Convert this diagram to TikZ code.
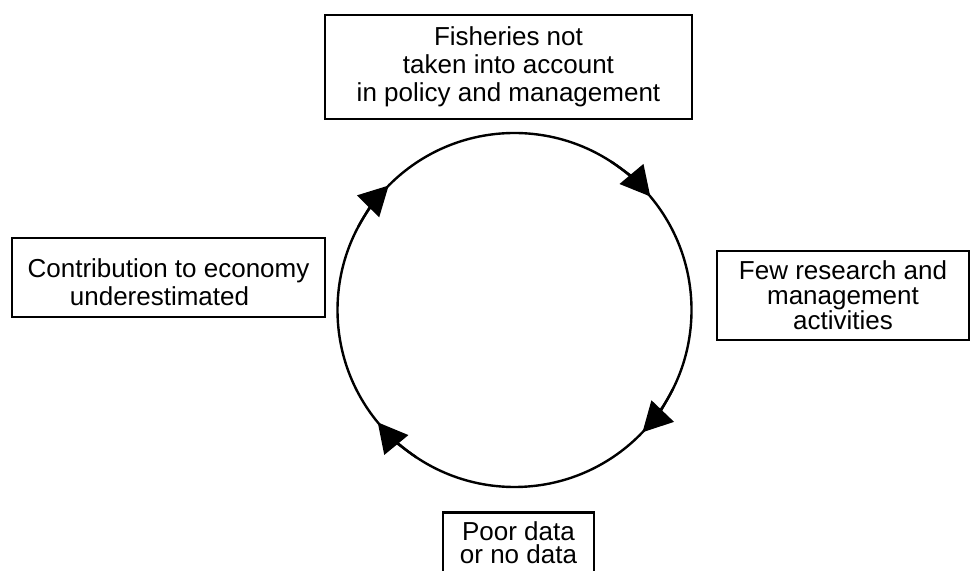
\documentclass[tikz,border=0pt]{standalone}
\usepackage{fontspec}
\setmainfont{Liberation Sans}
\usetikzlibrary{arrows.meta}
\begin{document}
\begin{tikzpicture}[x=0.75pt,y=0.75pt,
  box/.style={draw, line width=2.2pt, rectangle, align=center, inner sep=0pt,
    font=\fontsize{19.5pt}{21pt}\selectfont},
  cyc/.style={line width=1.8pt},
  cyctip/.style={line width=1.8pt, -{Triangle[length=22pt,width=23pt]}}]
\useasboundingbox (0,0) rectangle (971,571);
\clip (0,0) rectangle (971,571);

% the four stages of the cycle
\node[box, minimum width=275.25pt, minimum height=78pt] (policy) at (508.5,504)
  {Fisheries not\\taken into account\\in policy and management};
\node[box, minimum width=189pt, minimum height=66.75pt,
  font=\fontsize{19.5pt}{18.75pt}\selectfont] (research) at (843,275.5)
  {Few research and\\management\\activities};
\node[box, minimum width=113.25pt, inner ysep=7pt, text depth=16pt,
  font=\fontsize{19.5pt}{17.5pt}\selectfont, anchor=north] (data) at (518.5,60)
  {Poor data\\or no data};
\node[box, minimum width=234.75pt, minimum height=59.25pt] (economy) at (168.5,293.5)
  {\rule{0pt}{20.5pt}Contribution to economy\\underestimated\rule{13.5pt}{0pt}};

% the cycle itself, running clockwise
\node[circle, draw, cyc, minimum size=265.5pt, inner sep=0pt] (loop) at (514.5,261) {};
\draw[cyctip] ([shift={(152:132.75pt)}]loop.center) arc[start angle=152, end angle=135.3, radius=132.75pt];
\draw[cyctip] ([shift={(57:132.75pt)}]loop.center) arc[start angle=57, end angle=39.9, radius=132.75pt];
\draw[cyctip] ([shift={(-26.7:132.75pt)}]loop.center) arc[start angle=-26.7, end angle=-43.7, radius=132.75pt];
\draw[cyctip] ([shift={(236.4:132.75pt)}]loop.center) arc[start angle=236.4, end angle=219.4, radius=132.75pt];
\end{tikzpicture}
\end{document}
